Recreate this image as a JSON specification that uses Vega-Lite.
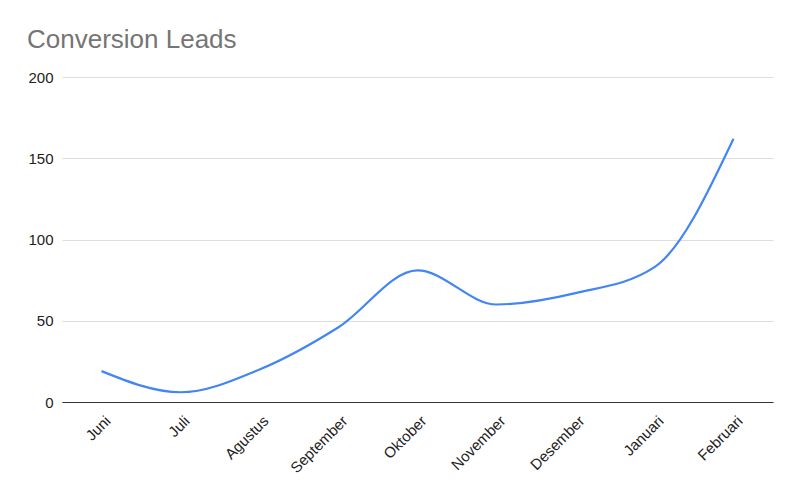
{
  "$schema": "https://vega.github.io/schema/vega-lite/v6.json",
  "autosize": "none",
  "width": 711,
  "height": 325,
  "padding": {"left": 62, "top": 77, "right": 27, "bottom": 96},
  "background": "white",
  "title": {
    "text": "Conversion Leads",
    "anchor": "start",
    "frame": "group",
    "dx": -35,
    "dy": 4,
    "offset": 0,
    "baseline": "alphabetic",
    "font": "Liberation Sans",
    "fontSize": 26,
    "fontWeight": "normal",
    "color": "#757575"
  },
  "data": {
    "values": [
      {"bulan": "Juni", "leads": 19},
      {"bulan": "Juli", "leads": 6},
      {"bulan": "Agustus", "leads": 20},
      {"bulan": "September", "leads": 46},
      {"bulan": "Oktober", "leads": 81},
      {"bulan": "November", "leads": 60},
      {"bulan": "Desember", "leads": 67},
      {"bulan": "Januari", "leads": 83},
      {"bulan": "Februari", "leads": 162}
    ]
  },
  "mark": {"type": "line", "interpolate": "monotone", "color": "#4285F4", "strokeWidth": 2.2},
  "encoding": {
    "x": {
      "field": "bulan",
      "type": "nominal",
      "sort": null,
      "scale": {"type": "point", "padding": 0.5},
      "axis": {
        "title": null,
        "labelAngle": -45,
        "labelAlign": "right",
        "labelBaseline": "middle",
        "labelPadding": 16,
        "labelOffset": 6,
        "ticks": false,
        "domain": true,
        "domainColor": "#333333",
        "domainWidth": 1,
        "grid": false,
        "labelFont": "Liberation Sans",
        "labelFontSize": 15,
        "labelColor": "#222222"
      }
    },
    "y": {
      "field": "leads",
      "type": "quantitative",
      "scale": {"domain": [0, 200]},
      "axis": {
        "title": null,
        "values": [0, 50, 100, 150, 200],
        "ticks": false,
        "domain": false,
        "labelPadding": 9,
        "gridColor": "#dddddd",
        "gridWidth": 1,
        "labelFont": "Liberation Sans",
        "labelFontSize": 15,
        "labelColor": "#222222"
      }
    }
  },
  "config": {"view": {"stroke": null}}
}
